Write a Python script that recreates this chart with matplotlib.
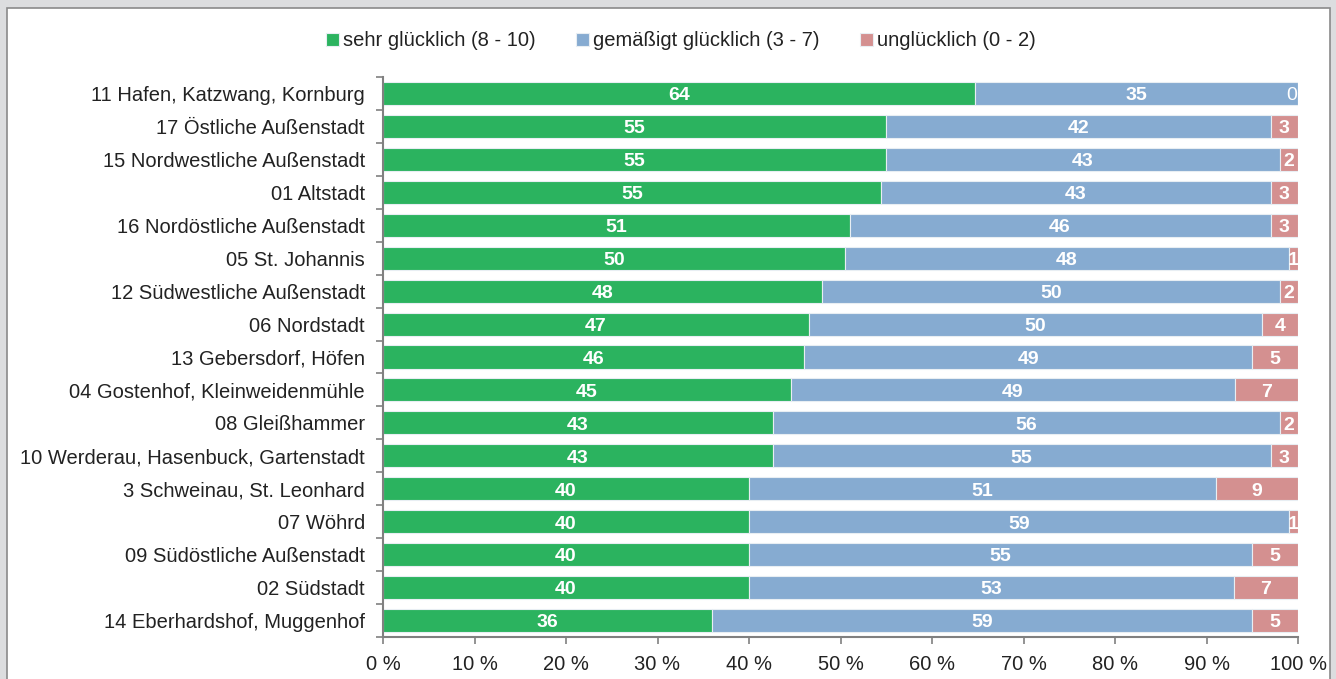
import matplotlib.pyplot as plt
import matplotlib.patches as mpatches
import numpy as np

plt.rcParams['font.family'] = ['Liberation Sans', 'DejaVu Sans']

districts = [
    '11 Hafen, Katzwang, Kornburg',
    '17 Östliche Außenstadt',
    '15 Nordwestliche Außenstadt',
    '01 Altstadt',
    '16 Nordöstliche Außenstadt',
    '05 St. Johannis',
    '12 Südwestliche Außenstadt',
    '06 Nordstadt',
    '13 Gebersdorf, Höfen',
    '04 Gostenhof, Kleinweidenmühle',
    '08 Gleißhammer',
    '10 Werderau, Hasenbuck, Gartenstadt',
    '3 Schweinau, St. Leonhard',
    '07 Wöhrd',
    '09 Südöstliche Außenstadt',
    '02 Südstadt',
    '14 Eberhardshof, Muggenhof',
]
sehr = [64, 55, 55, 55, 51, 50, 48, 47, 46, 45, 43, 43, 40, 40, 40, 40, 36]
gemaessigt = [35, 42, 43, 43, 46, 48, 50, 50, 49, 49, 56, 55, 51, 59, 55, 53, 59]
ungluecklich = [0, 3, 2, 3, 3, 1, 2, 4, 5, 7, 2, 3, 9, 1, 5, 7, 5]
series_names = ['sehr glücklich (8 - 10)', 'gemäßigt glücklich (3 - 7)', 'unglücklich (0 - 2)']
colors = ['#2bb35f', '#86abd1', '#d49090']

data = np.array([sehr, gemaessigt, ungluecklich], dtype=float)
# shares per row, scaled to 100 %
shares = data / data.sum(axis=0) * 100

fig = plt.figure(figsize=(13.36, 6.79), dpi=100, facecolor='#dcdddf')
panel = mpatches.Rectangle((7 / 1336, -0.01), 1323 / 1336, 1 - 8 / 679 + 0.01,
                           transform=fig.transFigure, facecolor='white',
                           edgecolor='#8a8a8a', linewidth=1.2, zorder=-10)
fig.patches.append(panel)

ax = fig.add_axes([383 / 1336, 1 - 637 / 679, 915 / 1336, 560 / 679])
ax.set_facecolor('none')
ax.set_zorder(5)

y = np.arange(len(districts))
left = np.zeros(len(districts))
handles = []
for i in range(3):
    bars = ax.barh(y, shares[i], left=left, height=0.7, color=colors[i],
                   edgecolor='#e8eef3', linewidth=0.8, label=series_names[i])
    handles.append(bars)
    for j in range(len(districts)):
        v = int(data[i, j])
        cx = left[j] + shares[i, j] / 2
        if i == 2 and v == 0:
            ax.text(left[j] - 0.15, y[j] + 0.07, '0', color='white', fontsize=14,
                    ha='right', va='center')
        else:
            ax.text(cx, y[j] + 0.07, str(v), color='white', fontsize=14,
                    fontweight='bold', ha='center', va='center')
    left = left + shares[i]

ax.set_ylim(len(districts) - 0.5, -0.5)
ax.set_xlim(0, 100)
ax.set_yticks(y)
ax.set_yticklabels(districts, fontsize=14.5, color='#222222')
ax.tick_params(axis='y', length=0, pad=13)
ax.set_yticks(np.arange(-0.5, len(districts), 1), minor=True)
ax.tick_params(axis='y', which='minor', length=5, width=1.2, color='#808080')
ax.set_xticks(np.arange(0, 101, 10))
ax.set_xticklabels([f'{t} %' for t in range(0, 101, 10)], fontsize=14.5, color='#222222')
ax.tick_params(axis='x', length=5, width=1.2, color='#808080', pad=8)

for s in ['top', 'right']:
    ax.spines[s].set_visible(False)
for s in ['left', 'bottom']:
    ax.spines[s].set_color('#808080')
    ax.spines[s].set_linewidth(1.5)

fig.legend(handles=handles, labels=series_names, loc='center',
           bbox_to_anchor=(0.5 + 13 / 1336, 1 - 41 / 679), ncol=3, frameon=False,
           fontsize=14.5, handlelength=0.65, handleheight=0.65, handletextpad=0.2,
           columnspacing=2.0, labelcolor='#222222')

fig.savefig('out.png', dpi=100, facecolor=fig.get_facecolor())
